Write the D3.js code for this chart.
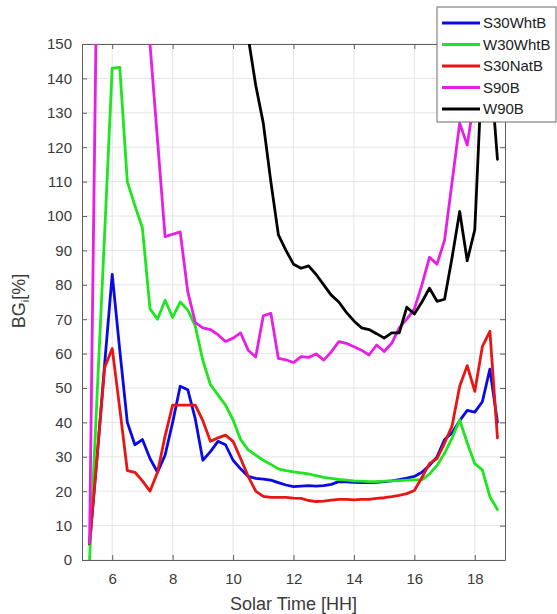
<!DOCTYPE html>
<html>
<head>
<meta charset="utf-8">
<script src="https://cdn.jsdelivr.net/npm/d3@7"></script>
<style>
  html, body { margin: 0; padding: 0; background: #fff; }
  svg { display: block; font-family: "Liberation Sans", Arial, sans-serif; }
</style>
</head>
<body>
<svg id="chart" width="557" height="614"></svg>
<script>
// Solar time of each sample (quarter-hour steps)
const hours = [5.25,5.5,5.75,6.0,6.25,6.5,6.75,7.0,7.25,7.5,7.75,8.0,8.25,8.5,8.75,9.0,9.25,9.5,9.75,10.0,
  10.25,10.5,10.75,11.0,11.25,11.5,11.75,12.0,12.25,12.5,12.75,13.0,13.25,13.5,13.75,14.0,14.25,14.5,14.75,15.0,
  15.25,15.5,15.75,16.0,16.25,16.5,16.75,17.0,17.25,17.5,17.75,18.0,18.25,18.5,18.75];

const seriesNames = ["S30WhtB", "W30WhtB", "S30NatB", "S90B", "W90B"];

const s30WhtB = [4.5,30,57,83,61,40,33.5,35,29.5,25.5,30.5,40,50.5,49.5,41,29,31.5,34.5,33.5,29,
  26.5,24.3,23.7,23.5,23.2,22.5,21.8,21.3,21.5,21.6,21.5,21.6,22,22.8,22.7,22.6,22.5,22.5,22.6,22.8,
  23,23.4,23.8,24.3,25.5,27.5,30,35,37,40.5,43.5,43,46,55.5,40];

const w30WhtB = [0,48,95,143,143.2,110,103,96.5,73,70,75.5,70.5,75,72.7,68,58,51,48,45,40.7,
  35,32,30.5,29,27.8,26.5,26,25.6,25.3,25,24.5,24,23.7,23.4,23.2,23,22.9,22.8,22.8,22.9,
  23,23.1,23.2,23.3,23.3,25,27.5,31,35.5,40.7,34,28,26.2,18.4,14.7];

const s30NatB = [4.8,30,56,61.5,44,26,25.5,23,20,25.5,36,45,45,45,45,40.5,34.5,35.5,36.3,34.5,
  29.5,24.3,20,18.5,18.2,18.2,18.2,18,17.9,17.3,17,17.1,17.4,17.6,17.6,17.5,17.6,17.6,17.9,18.1,
  18.4,18.8,19.3,20.2,24,28,29.5,34,39,50.5,56.5,49,62,66.5,35.5];

const s90B = [5,178,260,300,300,280,240,200,150,122,94,94.7,95.4,78,69,67.5,67,65.5,63.5,64.5,
  66,61,59,71,71.7,58.6,58.2,57.4,59.1,58.9,59.9,58.1,60.5,63.5,63,62,61,59.6,62.5,60.6,
  63,67.5,70,73,80,88,86,93,110,127,120.6,135,155,175,165];

const w90B = [null,null,null,null,null,null,null,null,null,null,null,null,null,null,null,null,null,null,null,190,
  172,152,138,127,110,94.5,90,86,84.8,85.5,83,80,77,75,72,69.5,67.5,67,65.8,64.5,
  66,66,73.5,71.5,75,79,75.2,75.8,88,101.3,87,96,145,145,116.5];

const seriesValues = [s30WhtB, w30WhtB, s30NatB, s90B, w90B];
const seriesColors = ["#0a0ae6", "#1ee61e", "#e81515", "#e61ee6", "#000000"];

const xTicks = [6, 8, 10, 12, 14, 16, 18];
const yTicks = d3.range(0, 151, 10);

const svg = d3.select("#chart");
const plot = { left: 82, right: 505, top: 44, bottom: 560 };

const x = d3.scaleLinear().domain([5, 19]).range([plot.left, plot.right]);
const y = d3.scaleLinear().domain([0, 150]).range([plot.bottom, plot.top]);

const axisColor = "#5f5f5f";
const textColor = "#3a3a3a";

// grid
const grid = svg.append("g");
grid.selectAll(".gx").data(xTicks).join("line")
  .attr("x1", d => x(d)).attr("x2", d => x(d))
  .attr("y1", plot.top).attr("y2", plot.bottom)
  .attr("stroke", "#e4e4e4").attr("stroke-width", 1);
grid.selectAll(".gy").data(yTicks).join("line")
  .attr("x1", plot.left).attr("x2", plot.right)
  .attr("y1", d => y(d)).attr("y2", d => y(d))
  .attr("stroke", "#e4e4e4").attr("stroke-width", 1);

// axes (ticks point inward)
const tickStyle = g => {
  g.select(".domain").attr("stroke", axisColor);
  g.selectAll(".tick line").attr("stroke", axisColor);
  g.selectAll(".tick text").attr("fill", textColor).style("font-size", "15px");
};

svg.append("g").attr("transform", `translate(0,${plot.bottom})`)
  .call(d3.axisBottom(x).tickValues(xTicks).tickSizeInner(-5).tickSizeOuter(0).tickPadding(13))
  .call(tickStyle);
svg.append("g").attr("transform", `translate(0,${plot.top})`)
  .call(d3.axisTop(x).tickValues(xTicks).tickSizeInner(-5).tickSizeOuter(0).tickFormat(""))
  .call(tickStyle);
svg.append("g").attr("transform", `translate(${plot.left},0)`)
  .call(d3.axisLeft(y).tickValues(yTicks).tickSizeInner(-5).tickSizeOuter(0).tickPadding(10))
  .call(tickStyle);
svg.append("g").attr("transform", `translate(${plot.right},0)`)
  .call(d3.axisRight(y).tickValues(yTicks).tickSizeInner(-5).tickSizeOuter(0).tickFormat(""))
  .call(tickStyle);

// clip region for the data lines
svg.append("defs").append("clipPath").attr("id", "plotClip")
  .append("rect")
  .attr("x", plot.left).attr("y", plot.top)
  .attr("width", plot.right - plot.left).attr("height", plot.bottom - plot.top);

const line = d3.line()
  .defined(d => d[1] != null)
  .x(d => x(d[0]))
  .y(d => y(d[1]));

const lines = svg.append("g").attr("clip-path", "url(#plotClip)");
seriesValues.forEach((vals, i) => {
  lines.append("path")
    .datum(hours.map((h, j) => [h, vals[j]]))
    .attr("d", line)
    .attr("fill", "none")
    .attr("stroke", seriesColors[i])
    .attr("stroke-width", 2.8)
    .attr("stroke-linejoin", "round")
    .attr("stroke-linecap", "round");
});

// axis titles
svg.append("text")
  .attr("x", (plot.left + plot.right) / 2).attr("y", 610)
  .attr("text-anchor", "middle").attr("fill", textColor)
  .style("font-size", "18px")
  .text("Solar Time [HH]");

const yl = svg.append("text")
  .attr("transform", "translate(25,301) rotate(-90)")
  .attr("text-anchor", "middle").attr("fill", textColor)
  .style("font-size", "18px");
yl.append("tspan").text("BG");
yl.append("tspan").attr("dy", 4).style("font-size", "11px").text("i");
yl.append("tspan").attr("dy", -4).text("[%]");

// legend
const legend = svg.append("g");
legend.append("rect")
  .attr("x", 437).attr("y", 7).attr("width", 119).attr("height", 115)
  .attr("fill", "#fff").attr("stroke", "#6a6a6a").attr("stroke-width", 1);
const rowY = d3.scaleLinear().domain([0, 4]).range([23, 109]);
seriesNames.forEach((name, i) => {
  legend.append("line")
    .attr("x1", 442).attr("x2", 480)
    .attr("y1", rowY(i)).attr("y2", rowY(i))
    .attr("stroke", seriesColors[i]).attr("stroke-width", 2.8);
  legend.append("text")
    .attr("x", 483).attr("y", rowY(i) + 5)
    .attr("fill", "#222").style("font-size", "15px")
    .text(name);
});
</script>
</body>
</html>
